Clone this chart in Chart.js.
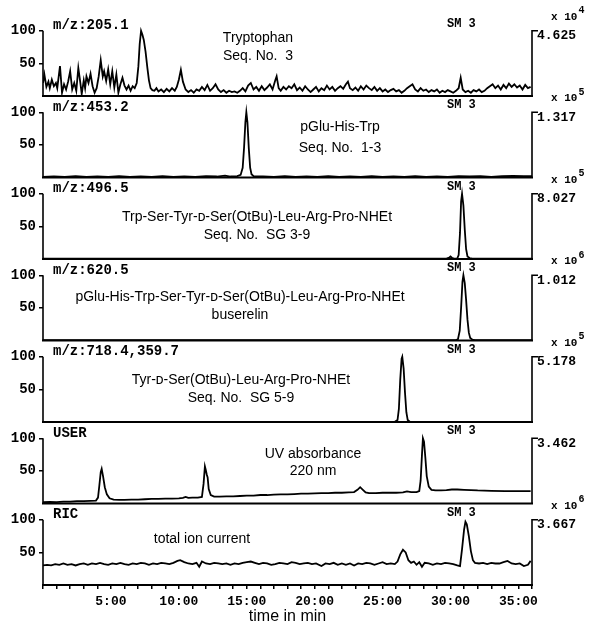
<!DOCTYPE html>
<html><head><meta charset="utf-8">
<script src="https://cdn.jsdelivr.net/npm/chart.js@4/dist/chart.umd.min.js"></script>
<style>html,body{margin:0;padding:0;background:#fff}canvas{display:block}</style>
</head><body>
<canvas id="c" width="589" height="623"></canvas>
<script>
// ---- DATA (time in min, relative intensity %) ----
const trp205Trace = [[0,20],[0.1,33],[0.25,14],[0.4,22],[0.5,12],[0.65,25],[0.8,15],[0.95,20],[1.05,12],[1.25,46],[1.4,5],[1.55,18],[1.7,10],[1.85,22],[2.0,38],[2.15,10],[2.3,20],[2.45,8],[2.6,43],[2.75,20],[2.85,3],[3.0,24],[3.1,12],[3.2,30],[3.35,20],[3.5,34],[3.65,15],[3.8,5],[3.95,12],[4.1,30],[4.25,55],[4.4,30],[4.5,38],[4.65,23],[4.8,41],[4.95,18],[5.1,38],[5.25,13],[5.4,33],[5.55,5],[5.7,18],[5.85,28],[6.0,16],[6.15,10],[6.3,16],[6.45,8],[6.6,15],[6.75,12],[6.9,20],[7.02,45],[7.12,80],[7.22,100],[7.32,94],[7.42,86],[7.55,68],[7.68,44],[7.8,24],[7.92,12],[8.05,9],[8.2,8],[8.35,12],[8.5,7],[8.7,10],[8.9,6],[9.1,11],[9.3,7],[9.5,12],[9.7,8],[9.85,14],[10.0,25],[10.15,40],[10.3,22],[10.5,10],[10.7,6],[10.9,9],[11.1,5],[11.3,10],[11.5,8],[11.7,14],[11.9,9],[12.1,17],[12.3,8],[12.5,12],[12.7,18],[12.9,10],[13.1,6],[13.3,9],[13.5,5],[13.7,8],[13.9,6],[14.1,7],[14.3,5],[14.5,8],[14.7,12],[14.9,7],[15.1,16],[15.3,20],[15.5,10],[15.7,14],[15.9,8],[16.1,15],[16.3,9],[16.5,13],[16.7,18],[16.9,10],[17.1,24],[17.2,30],[17.35,12],[17.5,8],[17.7,14],[17.9,10],[18.1,15],[18.3,12],[18.5,18],[18.7,9],[18.9,13],[19.1,8],[19.3,15],[19.5,10],[19.7,6],[19.9,10],[20.1,14],[20.3,7],[20.5,12],[20.7,9],[20.9,16],[21.1,10],[21.3,14],[21.5,8],[21.7,12],[21.9,15],[22.1,11],[22.3,18],[22.45,22],[22.6,12],[22.8,9],[23.0,13],[23.2,8],[23.4,15],[23.6,10],[23.8,16],[24.0,12],[24.2,9],[24.4,14],[24.6,8],[24.8,12],[25.0,7],[25.2,10],[25.4,6],[25.6,9],[25.8,11],[26.0,7],[26.2,9],[26.4,5],[26.6,8],[26.8,12],[27.0,15],[27.2,18],[27.4,10],[27.6,7],[27.8,12],[28.0,8],[28.2,10],[28.4,6],[28.6,9],[28.8,7],[29.0,10],[29.2,5],[29.4,8],[29.6,6],[29.8,9],[30.0,7],[30.2,5],[30.4,8],[30.6,12],[30.75,28],[30.9,10],[31.1,6],[31.3,8],[31.5,5],[31.7,9],[31.9,7],[32.1,10],[32.3,6],[32.5,8],[32.7,12],[32.9,15],[33.1,18],[33.3,12],[33.5,16],[33.7,10],[33.9,17],[34.1,12],[34.3,19],[34.5,14],[34.7,18],[34.9,13],[35.1,16],[35.3,10],[35.5,17],[35.7,12],[35.9,14]];
const pGluHisTrp453Trace = [[0,1],[0.8,1.5],[1.6,1],[2.4,2],[3.2,1],[4.0,1.5],[4.8,1],[5.6,2],[6.4,1],[7.2,1.5],[8.0,1],[8.8,2],[9.6,1],[10.4,1.5],[11.2,1],[12.0,2],[12.8,1.5],[13.4,3],[13.8,1.5],[14.3,2],[14.55,4],[14.7,15],[14.8,45],[14.9,85],[14.97,100],[15.05,85],[15.15,45],[15.25,15],[15.35,5],[15.5,2],[16.2,1.5],[17.0,1],[17.8,2],[18.6,1],[19.4,1.5],[20.2,1],[21.0,2],[21.8,1],[22.6,1.5],[23.4,1],[24.2,2],[25.0,1],[25.8,1.5],[26.6,1],[27.4,2],[28.2,1],[29.0,1.5],[29.8,1],[30.6,2],[31.4,1.5],[32.2,2],[33.0,1],[33.8,2],[34.6,2.5],[35.4,2],[36,2]];
const sg39Trace496 = [[0,0.5],[5,0.5],[10,0.5],[15,0.5],[20,0.5],[25,0.5],[29.7,0.5],[29.9,2],[30.0,4],[30.1,2],[30.25,0.5],[30.5,1],[30.6,6],[30.7,40],[30.78,88],[30.85,100],[30.95,82],[31.05,45],[31.15,15],[31.25,4],[31.4,1.5],[31.6,0.5],[33,0.5],[36,0.5]];
const buserelin620Trace = [[0,0.5],[10,0.5],[20,0.5],[30.4,0.5],[30.55,2],[30.68,15],[30.78,50],[30.88,90],[30.95,100],[31.05,88],[31.15,62],[31.25,32],[31.35,12],[31.45,4],[31.6,1.5],[31.8,0.5],[36,0.5]];
const sg59Trace718 = [[0,0.3],[10,0.3],[20,0.3],[25.9,0.3],[26.1,3],[26.2,20],[26.3,65],[26.4,97],[26.45,100],[26.55,82],[26.65,45],[26.75,15],[26.85,3],[27.0,0.3],[36,0.3]];
const uvTrace = [[0,2],[0.5,2.5],[1,2],[1.5,3],[2,3],[2.5,3.5],[3,3.5],[3.5,4],[3.9,4.5],[4.05,9],[4.15,28],[4.25,48],[4.32,53],[4.42,42],[4.55,25],[4.7,14],[4.9,8],[5.2,6],[5.6,5.5],[6,5.5],[6.5,6],[7,6],[7.5,6.5],[8,7],[8.5,7],[9,7.5],[9.5,7.5],[10,8],[10.3,8.5],[10.5,10],[10.7,8.5],[11,9],[11.4,9],[11.7,10],[11.82,30],[11.92,57],[11.98,52],[12.05,45],[12.12,40],[12.2,22],[12.35,13],[12.6,10.5],[13,10.5],[13.5,11],[14,11],[14.5,11.5],[15,12],[15.5,12],[16,13],[16.5,13],[17,13.5],[17.5,14],[18,14],[18.5,14.5],[19,15],[19.5,15],[20,15.5],[20.5,16],[21,16],[21.5,16.5],[22,16.5],[22.5,17],[22.9,17.5],[23.15,21],[23.35,25],[23.55,21],[23.75,17],[24,16],[24.5,16],[25,16.5],[25.5,16.5],[26,16.5],[26.5,17],[26.8,18.5],[27.1,17.5],[27.5,17.5],[27.7,19],[27.8,35],[27.9,75],[27.97,100],[28.05,95],[28.15,70],[28.25,42],[28.4,26],[28.6,21],[28.9,20],[29.3,20],[29.7,20.5],[30.1,21.5],[30.5,21.5],[31,21],[31.5,20.5],[32,20],[33,19.5],[34,19],[35,19],[35.9,19]];
const ricTrace = [[0,30],[0.3,31],[0.6,30],[0.9,32],[1.2,31],[1.5,33],[1.8,31],[2.1,32],[2.4,30],[2.7,32],[3.0,33],[3.3,31],[3.6,33],[3.9,32],[4.2,34],[4.5,32],[4.8,31],[5.1,33],[5.4,32],[5.7,34],[6.0,32],[6.3,31],[6.6,33],[6.9,32],[7.2,34],[7.5,33],[7.8,31],[8.1,33],[8.4,32],[8.7,34],[9.0,33],[9.3,32],[9.6,34],[9.9,37],[10.1,38],[10.4,35],[10.7,33],[11.0,32],[11.3,34],[11.5,28],[11.7,36],[12.0,33],[12.3,32],[12.6,34],[12.9,33],[13.2,32],[13.5,33],[13.8,31],[14.1,33],[14.4,32],[14.7,34],[15.0,35],[15.3,36],[15.6,34],[15.9,32],[16.2,34],[16.5,33],[16.8,31],[17.1,32],[17.4,34],[17.7,33],[18.0,32],[18.3,35],[18.6,34],[18.9,32],[19.2,33],[19.5,34],[19.8,32],[20.1,33],[20.5,29],[20.8,33],[21.1,32],[21.4,34],[21.7,31],[22.0,33],[22.3,31],[22.6,33],[22.9,30],[23.2,33],[23.5,32],[23.8,34],[24.1,33],[24.4,31],[24.7,33],[25.0,35],[25.3,32],[25.6,33],[25.9,32],[26.1,36],[26.3,47],[26.5,54],[26.7,50],[26.9,38],[27.1,34],[27.3,36],[27.5,31],[27.7,35],[27.9,28],[28.1,34],[28.4,33],[28.7,31],[29.0,33],[29.3,32],[29.6,34],[29.9,33],[30.2,32],[30.5,30],[30.7,29],[30.85,55],[31.0,85],[31.1,97],[31.2,93],[31.35,75],[31.5,52],[31.65,38],[31.8,34],[32.1,33],[32.4,34],[32.7,32],[33.0,34],[33.3,33],[33.6,33],[33.9,35],[34.2,37],[34.5,33],[34.8,32],[35.1,33],[35.4,29],[35.7,31],[35.9,37]];

// panels, top to bottom
const panelTraces = [trp205Trace, pGluHisTrp453Trace, sg39Trace496, buserelin620Trace, sg59Trace718, uvTrace, ricTrace];
const panelChannels = ['m/z:205.1','m/z:453.2','m/z:496.5','m/z:620.5','m/z:718.4,359.7','USER','RIC'];
const panelFullScale = ['4.625','1.317','8.027','1.012','5.178','3.462','3.667'];
const panelExponent = ['4','5','5','6','5','','6'];
const panelSmoothing = ['SM 3','SM 3','SM 3','SM 3','SM 3','SM 3','SM 3'];
const panelNotes = [
  ['Tryptophan','Seq. No.  3'],
  ['pGlu-His-Trp','Seq. No.  1-3'],
  ['Trp-Ser-Tyr-\u1D05-Ser(OtBu)-Leu-Arg-Pro-NHEt','Seq. No.  SG 3-9'],
  ['pGlu-His-Trp-Ser-Tyr-\u1D05-Ser(OtBu)-Leu-Arg-Pro-NHEt','buserelin'],
  ['Tyr-\u1D05-Ser(OtBu)-Leu-Arg-Pro-NHEt','Seq. No.  SG 5-9'],
  ['UV absorbance','220 nm'],
  ['total ion current']
];
const yTickValues = [50, 100];
const xLabelMinutes = [5, 10, 15, 20, 25, 30, 35];
const xLabelTexts = ['5:00','10:00','15:00','20:00','25:00','30:00','35:00'];
const xAxisTitle = 'time in min';

// ---- layout / style (not data) ----
const noteX = [258, 340, 257, 240, 241, 313, 202];
const noteDy = [[7,25],[15,36],[23,41],[22,40],[23,41],[16,33],[19]];
const MONO = '"Liberation Mono", "DejaVu Sans Mono", monospace';
const SANS = '"Liberation Sans", "DejaVu Sans", sans-serif';

const panelKeys = panelTraces.map((_, i) => 'p' + i);

const scales = {
  x: {
    type: 'linear', position: 'bottom', min: 0, max: 36,
    afterFit: s => { s.height = 38; },
    border: { display: false },
    grid: { drawOnChartArea: false, drawTicks: true, tickLength: 4, color: '#000', lineWidth: 1.5 },
    ticks: {
      stepSize: 1, autoSkip: false, maxRotation: 0, minRotation: 0, padding: 5, color: '#000',
      font: { family: MONO, weight: 'bold', size: 13 },
      callback: v => { const k = xLabelMinutes.indexOf(v); return k >= 0 ? xLabelTexts[k] : ''; }
    },
    title: { display: true, text: xAxisTitle, color: '#000', font: { family: SANS, size: 16, lineHeight: 0.75 }, padding: { top: 0, bottom: 0 } }
  }
};
// define bottom panel first so the last-defined (top panel) is stacked on top
for (let i = panelKeys.length - 1; i >= 0; i--) {
  scales[panelKeys[i]] = {
    type: 'linear', position: 'left', stack: 'panels', stackWeight: 1, min: 0, max: 125,
    afterBuildTicks: s => { s.ticks = yTickValues.map(v => ({ value: v })); },
    afterFit: s => { s.width = 43; },
    border: { display: false },
    grid: { drawOnChartArea: false, drawTicks: true, tickLength: 4, color: '#000', lineWidth: 1.5 },
    ticks: { color: '#000', padding: 3, font: { family: MONO, weight: 'bold', size: 14 } }
  };
}

const panelFrame = {
  id: 'panelFrame',
  afterDatasetsDraw(chart) {
    const ctx = chart.ctx, ca = chart.chartArea;
    ctx.save();
    ctx.strokeStyle = '#000'; ctx.fillStyle = '#000';
    panelKeys.forEach((key, i) => {
      const s = chart.scales[key];
      const y0 = s.getPixelForValue(0), y100 = s.getPixelForValue(100);
      ctx.lineWidth = 2;
      ctx.beginPath(); ctx.moveTo(ca.left - 1, y0); ctx.lineTo(ca.right + 1, y0); ctx.stroke();
      ctx.lineWidth = 1.6;
      ctx.beginPath(); ctx.moveTo(ca.left, y0); ctx.lineTo(ca.left, y100); ctx.stroke();
      ctx.beginPath(); ctx.moveTo(ca.right, y0); ctx.lineTo(ca.right, y100); ctx.lineTo(ca.right + 6, y100); ctx.stroke();
      ctx.textBaseline = 'middle'; ctx.textAlign = 'left';
      ctx.font = 'bold 14px ' + MONO;
      ctx.fillText(panelChannels[i], ca.left + 10, y100 - 5);
      ctx.font = 'bold 12px ' + MONO;
      ctx.fillText(panelSmoothing[i], 447, y100 - 7);
      ctx.font = 'bold 13px ' + MONO;
      ctx.fillText(panelFullScale[i], ca.right + 5, y100 + 5);
      if (panelExponent[i]) {
        ctx.font = 'bold 11px ' + MONO;
        const base = 'x 10';
        ctx.fillText(base, ca.right + 19, y100 - 14);
        const w = ctx.measureText(base).width;
        ctx.font = 'bold 10px ' + MONO;
        ctx.fillText(panelExponent[i], ca.right + 20 + w, y100 - 20);
      }
      ctx.textAlign = 'center';
      ctx.font = '14px ' + SANS;
      panelNotes[i].forEach((t, j) => ctx.fillText(t, noteX[i], y100 + noteDy[i][j]));
    });
    ctx.restore();
  }
};

new Chart(document.getElementById('c'), {
  type: 'line',
  data: {
    datasets: panelTraces.map((tr, i) => ({
      label: panelChannels[i],
      data: tr.map(([x, y]) => ({ x, y })),
      yAxisID: panelKeys[i],
      borderColor: '#000', borderWidth: 1.8, pointRadius: 0, fill: false, tension: 0
    }))
  },
  options: {
    responsive: false, animation: false,
    layout: { padding: { top: 14.5, right: 57, bottom: 0, left: 0 } },
    plugins: { legend: { display: false }, tooltip: { enabled: false } },
    scales
  },
  plugins: [panelFrame]
});
</script>
</body></html>
